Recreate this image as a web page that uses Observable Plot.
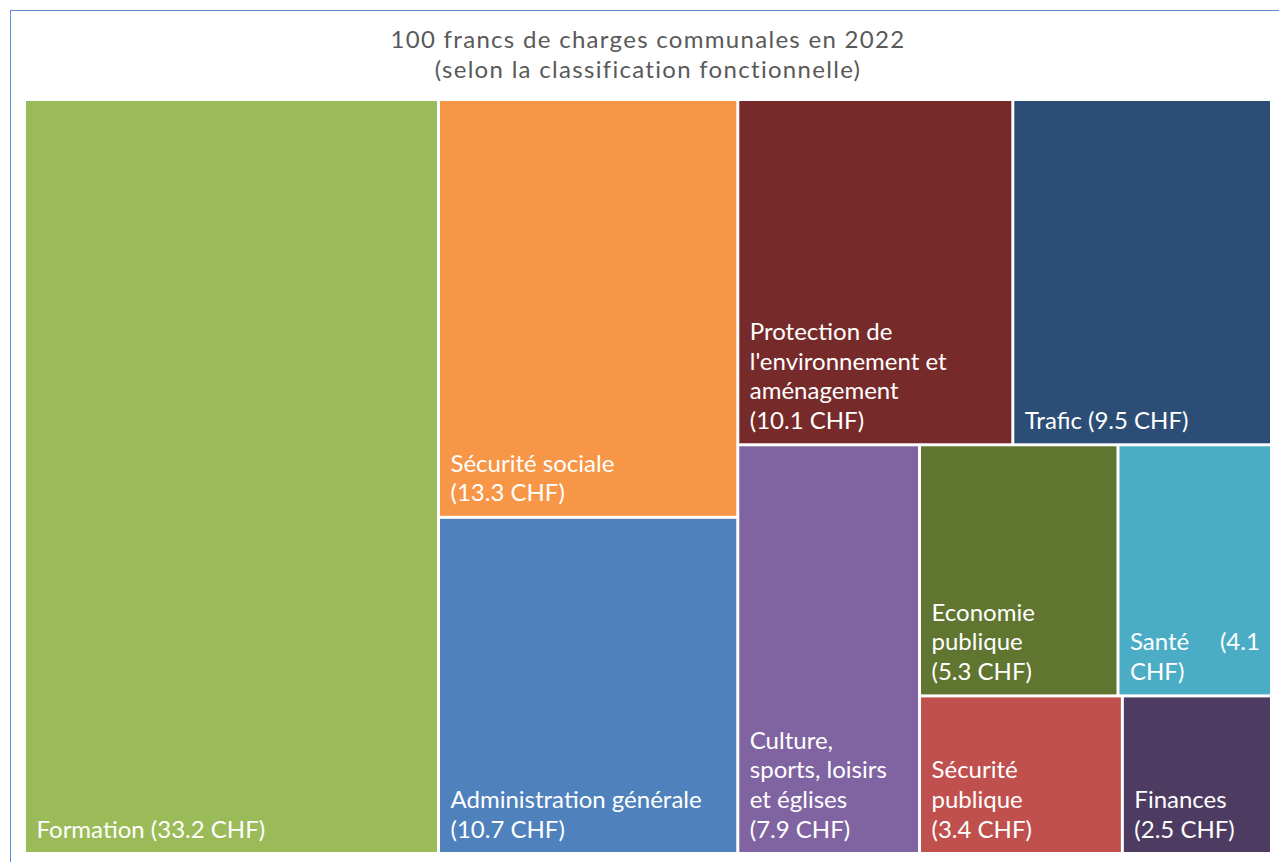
<!DOCTYPE html>
<html>
<head>
<meta charset="utf-8">
<script src="https://cdn.jsdelivr.net/npm/d3@7"></script>
<script src="https://cdn.jsdelivr.net/npm/@observablehq/plot@0.6"></script>
<style>
  html, body { margin: 0; padding: 0; background: #fff; overflow: hidden; }
  #frame { position: absolute; left: 10px; top: 10px; width: 1400px; height: 1000px;
           border-top: 1px solid #5b8fd3; border-left: 1px solid #5b8fd3; }
  #title { position: absolute; left: 26px; top: 24px; width: 1244px; text-align: center;
           font-family: Lato, "Open Sans", sans-serif; font-size: 24px; line-height: 30px;
           letter-spacing: 1.3px; color: #595959; }
  #chart { position: absolute; left: 0; top: 101px; }
</style>
</head>
<body>
<div id="frame"></div>
<div id="title">100 francs de charges communales en 2022<br>(selon la classification fonctionnelle)</div>
<div id="chart"></div>
<script>
// Data
const categories = ["Formation", "Sécurité sociale", "Administration générale",
  "Protection de l'environnement et aménagement", "Trafic",
  "Culture, sports, loisirs et églises", "Economie publique", "Santé",
  "Sécurité publique", "Finances"];
const values = [33.2, 13.3, 10.7, 10.1, 9.5, 7.9, 5.3, 4.1, 3.4, 2.5];
// grouping of the treemap (nested slice/dice blocks)
const groups = ["", "g1", "g1", "g2/top", "g2/top", "g2/bottom",
  "g2/bottom/g3/r1", "g2/bottom/g3/r1", "g2/bottom/g3/r2", "g2/bottom/g3/r2"];
const labels = [
  "Formation (33.2 CHF)",
  "Sécurité sociale\n(13.3 CHF)",
  "Administration générale\n(10.7 CHF)",
  "Protection de\nl'environnement et\naménagement\n(10.1 CHF)",
  "Trafic (9.5 CHF)",
  "Culture,\nsports, loisirs\net églises\n(7.9 CHF)",
  "Economie\npublique\n(5.3 CHF)",
  "Santé\u00a0\u00a0\u00a0\u00a0 (4.1\nCHF)",
  "Sécurité\npublique\n(3.4 CHF)",
  "Finances\n(2.5 CHF)"
];
const palette = ["#9bbb59", "#f79646", "#4f81bd", "#772a2a", "#2c4d75",
  "#8064a2", "#5f7530", "#4bacc6", "#c0504d", "#4d3b62"];

const W = 1244, H = 751;
const rows = categories.map((name, i) => ({
  name, value: values[i], label: labels[i],
  path: "/" + (groups[i] ? groups[i] + "/" : "") + name
}));
const root = d3.stratify().path(d => d.path)(rows)
  .sum(d => (d && d.value) ? d.value : 0);
d3.treemap().tile(d3.treemapSliceDice).size([W, H]).paddingInner(3).round(false)(root);
const leaves = root.leaves();

const chart = Plot.plot({
  width: 1279, height: H,
  marginLeft: 26, marginRight: 9, marginTop: 0, marginBottom: 0,
  x: {domain: [0, W], axis: null},
  y: {domain: [0, H], range: [0, H], axis: null},
  color: {domain: categories, range: palette},
  style: {fontFamily: "Lato, 'Open Sans', sans-serif"},
  marks: [
    Plot.rect(leaves, {x1: "x0", x2: "x1", y1: "y0", y2: "y1", fill: d => d.data.name}),
    Plot.text(leaves, {x: "x0", y: "y1", text: d => d.data.label, dx: 10, dy: -15,
      textAnchor: "start", lineAnchor: "bottom", fill: "white", fontSize: 24, lineHeight: 1.23})
  ]
});
document.getElementById("chart").appendChild(chart);
</script>
</body>
</html>
